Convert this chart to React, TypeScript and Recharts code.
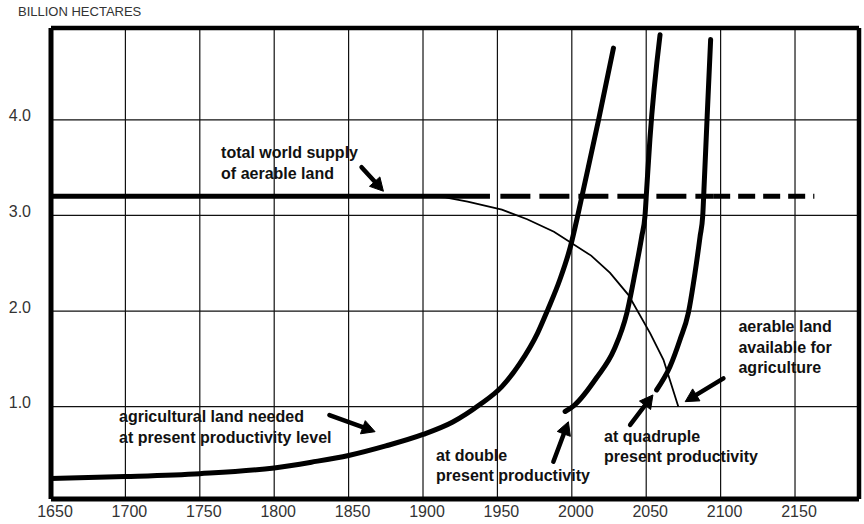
import React from 'react';
import { LineChart, Line, XAxis, YAxis, CartesianGrid, ReferenceLine, ReferenceDot } from 'recharts';

const xTicks = [1650, 1700, 1750, 1800, 1850, 1900, 1950, 2000, 2050, 2100, 2150];
const yTicks = [1, 2, 3, 4];

const supplySolid = [
  { year: 1650, v: 3.2 },
  { year: 1945, v: 3.2 },
];
const supplyDashLong = [
  { year: 1952, v: 3.2 },
  { year: 2095, v: 3.2 },
];
const supplyDashShort = [
  { year: 2095, v: 3.2 },
  { year: 2163, v: 3.2 },
];

const presentNeed = [
  { year: 1650, v: 0.25 },
  { year: 1700, v: 0.27 },
  { year: 1750, v: 0.3 },
  { year: 1800, v: 0.36 },
  { year: 1825, v: 0.42 },
  { year: 1850, v: 0.49 },
  { year: 1875, v: 0.59 },
  { year: 1900, v: 0.71 },
  { year: 1920, v: 0.84 },
  { year: 1938, v: 1.02 },
  { year: 1953, v: 1.21 },
  { year: 1965, v: 1.45 },
  { year: 1977, v: 1.77 },
  { year: 1984, v: 2.02 },
  { year: 1992, v: 2.33 },
  { year: 1999, v: 2.67 },
  { year: 2004, v: 3.0 },
  { year: 2007.5, v: 3.25 },
  { year: 2018, v: 4.0 },
  { year: 2028, v: 4.75 },
];

const doubleNeed = [
  { year: 1995.5, v: 0.95 },
  { year: 2002, v: 1.02 },
  { year: 2016.5, v: 1.3 },
  { year: 2028.5, v: 1.6 },
  { year: 2037, v: 1.98 },
  { year: 2042.5, v: 2.4 },
  { year: 2047, v: 2.78 },
  { year: 2049.2, v: 3.0 },
  { year: 2050.3, v: 3.27 },
  { year: 2052.5, v: 3.8 },
  { year: 2059.3, v: 4.89 },
];

const quadrupleNeed = [
  { year: 2057, v: 1.175 },
  { year: 2066, v: 1.42 },
  { year: 2072.7, v: 1.7 },
  { year: 2078.3, v: 1.98 },
  { year: 2082.8, v: 2.4 },
  { year: 2086.2, v: 2.78 },
  { year: 2088, v: 3.0 },
  { year: 2088.8, v: 3.27 },
  { year: 2091, v: 4.05 },
  { year: 2093.3, v: 4.84 },
];

const availableLand = [
  { year: 1900, v: 3.2 },
  { year: 1915, v: 3.19 },
  { year: 1930, v: 3.145 },
  { year: 1953, v: 3.06 },
  { year: 1970, v: 2.96 },
  { year: 1988, v: 2.83 },
  { year: 2013, v: 2.58 },
  { year: 2025.7, v: 2.4 },
  { year: 2038, v: 2.17 },
  { year: 2052.6, v: 1.77 },
  { year: 2061.6, v: 1.49 },
  { year: 2071.6, v: 1.0 },
];

const annotationTexts = [
  { year: 1764.3, v: 3.6, lines: ['total world supply', 'of aerable land'] },
  { year: 1695.7, v: 0.837, lines: ['agricultural land needed', 'at present productivity level'] },
  { year: 1908.8, v: 0.435, lines: ['at double', 'present productivity'] },
  { year: 2021.7, v: 0.634, lines: ['at quadruple', 'present productivity'] },
  { year: 2112, v: 1.779, lines: ['aerable land', 'available for', 'agriculture'] },
];

const annotationArrows = [
  { x1: 1858.7, y1: 3.505, x2: 1873.4, y2: 3.253 },
  { x1: 1837.1, y1: 0.913, x2: 1867.8, y2: 0.739 },
  { x1: 1987.6, y1: 0.425, x2: 1997.7, y2: 0.843 },
  { x1: 2039.2, y1: 0.809, x2: 2054.5, y2: 1.123 },
  { x1: 2101.9, y1: 1.297, x2: 2076.2, y2: 1.053 },
];

const FONT = "'Liberation Sans', Arial, Helvetica, sans-serif";

const ArrowShape = (props: any) => {
  const { x1, y1, x2, y2 } = props;
  const dx = x2 - x1;
  const dy = y2 - y1;
  const len = Math.sqrt(dx * dx + dy * dy) || 1;
  const ux = dx / len;
  const uy = dy / len;
  const headLen = 13;
  const halfW = 7;
  const bx = x2 - ux * headLen;
  const by = y2 - uy * headLen;
  const px = -uy;
  const py = ux;
  const pts = `${x2},${y2} ${bx + px * halfW},${by + py * halfW} ${bx - px * halfW},${by - py * halfW}`;
  return (
    <g>
      <line x1={x1} y1={y1} x2={bx + ux * 2} y2={by + uy * 2} stroke="#000" strokeWidth={4.5} strokeLinecap="round" />
      <polygon points={pts} fill="#000" stroke="#000" strokeWidth={1} strokeLinejoin="round" />
    </g>
  );
};

const makeTextShape = (lines: string[]) => (p: any) => (
  <text x={p.cx} y={p.cy} fontFamily={FONT} fontWeight="bold" fontSize={16} fill="#111">
    {lines.map((l, i) => (
      <tspan key={i} x={p.cx} dy={i === 0 ? 0 : 20.5}>
        {l}
      </tspan>
    ))}
  </text>
);

const AxisTitle = (props: any) => {
  const vb = props.viewBox || { x: 0, y: 28 };
  return (
    <text x={vb.x + 18} y={vb.y - 12} fontFamily={FONT} fontSize={13} fill="#333">
      BILLION HECTARES
    </text>
  );
};

export default function App() {
  const curveCommon = {
    dataKey: 'v',
    dot: false,
    activeDot: false,
    isAnimationActive: false,
    stroke: '#000',
    legendType: 'none' as const,
  };
  return (
    <div style={{ position: 'absolute', left: 0, top: 0, width: 864, height: 524, background: '#fff' }}>
      <LineChart width={864} height={524} margin={{ top: 28, right: 5, bottom: 0, left: 0 }}>
        <CartesianGrid stroke="#111" strokeWidth={1.2} />
        <XAxis
          dataKey="year"
          type="number"
          domain={[1650, 2193]}
          ticks={xTicks}
          allowDataOverflow
          height={25}
          tickSize={0}
          tickMargin={7}
          axisLine={{ stroke: '#000', strokeWidth: 5 }}
          tick={{ fill: '#333', fontSize: 16, fontFamily: FONT, dx: 4 }}
        />
        <YAxis
          type="number"
          domain={[0.035, 4.96]}
          ticks={yTicks}
          allowDataOverflow
          width={51}
          tickSize={0}
          tickMargin={20}
          tickFormatter={(v: number) => v.toFixed(1)}
          axisLine={{ stroke: '#000', strokeWidth: 5 }}
          tick={{ fill: '#333', fontSize: 16, fontFamily: FONT, dy: -4 }}
          label={<AxisTitle />}
        />
        <ReferenceLine y={4.96} stroke="#000" strokeWidth={4.5} />
        <ReferenceLine x={2193} stroke="#000" strokeWidth={4.5} />

        <Line {...curveCommon} data={availableLand} type="linear" strokeWidth={1.8} />
        <Line {...curveCommon} data={supplySolid} type="linear" strokeWidth={5} />
        <Line {...curveCommon} data={supplyDashLong} type="linear" strokeWidth={5} strokeDasharray="30 9" />
        <Line {...curveCommon} data={supplyDashShort} type="linear" strokeWidth={5} strokeDasharray="17 8" />
        <Line {...curveCommon} data={presentNeed} type="monotone" strokeWidth={5} strokeLinecap="round" />
        <Line {...curveCommon} data={doubleNeed} type="monotone" strokeWidth={5} strokeLinecap="round" />
        <Line {...curveCommon} data={quadrupleNeed} type="monotone" strokeWidth={5} strokeLinecap="round" />

        {annotationArrows.map((a, i) => (
          <ReferenceLine
            key={`arrow-${i}`}
            segment={[
              { x: a.x1, y: a.y1 },
              { x: a.x2, y: a.y2 },
            ]}
            shape={ArrowShape}
          />
        ))}
        {annotationTexts.map((t, i) => (
          <ReferenceDot key={`text-${i}`} x={t.year} y={t.v} r={0} shape={makeTextShape(t.lines)} />
        ))}
      </LineChart>
    </div>
  );
}
